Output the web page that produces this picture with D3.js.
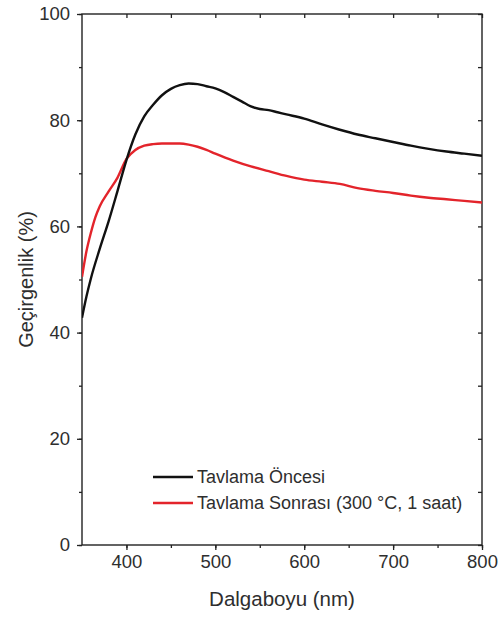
<!DOCTYPE html>
<html><head><meta charset="utf-8">
<script src="https://cdn.jsdelivr.net/npm/d3@7/dist/d3.min.js"></script>
<style>body{margin:0;background:#fff;}text{font-family:"Liberation Sans",Arial,sans-serif;}</style>
</head><body><svg id="c" width="498" height="619"></svg>
<script>
const wlBefore = [350,355,360,370,380,390,400,410,420,430,440,450,460,470,480,490,500,510,520,530,540,550,560,570,580,600,620,640,660,680,700,720,740,760,780,800];
const tBefore  = [42.8,46.8,50.2,55.8,61.0,66.7,72.5,77.3,80.7,82.9,84.7,85.9,86.6,86.9,86.8,86.4,86.0,85.3,84.4,83.5,82.6,82.1,81.9,81.5,81.1,80.3,79.2,78.2,77.3,76.6,75.9,75.2,74.6,74.1,73.7,73.3];
const wlAfter = [350,355,360,365,370,380,390,400,410,420,430,440,450,460,470,480,490,500,520,540,560,580,600,620,640,660,680,700,720,740,760,780,800];
const tAfter  = [50.5,55.3,58.8,61.7,63.8,66.6,69.2,72.7,74.4,75.2,75.5,75.6,75.6,75.6,75.4,75.0,74.4,73.7,72.4,71.3,70.4,69.5,68.8,68.4,68.0,67.2,66.7,66.3,65.8,65.4,65.1,64.8,64.5];
const xTicks = [400,500,600,700,800];
const yTicks = [0,20,40,60,80,100];
const seriesNames = ["Tavlama Öncesi","Tavlama Sonrası (300 °C, 1 saat)"];
const seriesColors = ["#111111","#e3242b"];
const xTitle = "Dalgaboyu (nm)";
const yTitle = "Geçirgenlik (%)";

const svg = d3.select("#c");
const L=82, R=482, T=14, B=545;
const x = d3.scaleLinear().domain([350,800]).range([L,R]);
const y = d3.scaleLinear().domain([0,100]).range([B,T]);
const axCol="#222", txtCol="#2e2e2e";

svg.append("rect").attr("x",L).attr("y",T).attr("width",R-L).attr("height",B-T)
  .attr("fill","none").attr("stroke",axCol).attr("stroke-width",1.4);

const minorX = d3.range(400,801,50);
const minorY = d3.range(0,101,10);

function styleAxis(g){
  g.select(".domain").remove();
  g.selectAll("line").attr("stroke",axCol).attr("stroke-width",1.3);
  g.selectAll("text").attr("fill",txtCol).style("font-size","18.5px");
}
svg.append("g").attr("transform",`translate(0,${B})`)
  .call(d3.axisBottom(x).tickValues(minorX).tickSize(3).tickFormat(""))
  .call(styleAxis);
svg.append("g").attr("transform",`translate(0,${B})`)
  .call(d3.axisBottom(x).tickValues(xTicks).tickSize(5).tickPadding(5).tickFormat(d3.format("d")))
  .call(styleAxis);
svg.append("g").attr("transform",`translate(${L},0)`)
  .call(d3.axisLeft(y).tickValues(minorY).tickSize(3).tickFormat(""))
  .call(styleAxis);
svg.append("g").attr("transform",`translate(${L},0)`)
  .call(d3.axisLeft(y).tickValues(yTicks).tickSize(5).tickPadding(7).tickFormat(d3.format("d")))
  .call(styleAxis);
svg.append("g").attr("transform",`translate(0,${T})`)
  .call(d3.axisBottom(x).tickValues(minorX).tickSize(4).tickFormat(""))
  .call(styleAxis);
svg.append("g").attr("transform",`translate(${R},0)`)
  .call(d3.axisLeft(y).tickValues(minorY).tickSize(4).tickFormat(""))
  .call(styleAxis);

const line = d3.line().x(d=>x(d[0])).y(d=>y(d[1])).curve(d3.curveMonotoneX);
const data = [d3.zip(wlBefore,tBefore), d3.zip(wlAfter,tAfter)];
svg.append("clipPath").attr("id","cp").append("rect").attr("x",L).attr("y",T).attr("width",R-L).attr("height",B-T);
[1,0].forEach(i=>{
  svg.append("path").datum(data[i]).attr("d",line).attr("fill","none")
    .attr("stroke",seriesColors[i]).attr("stroke-width",2.4).attr("clip-path","url(#cp)");
});

seriesNames.forEach((n,i)=>{
  const yy = 477 + i*26;
  svg.append("line").attr("x1",153).attr("x2",193).attr("y1",yy).attr("y2",yy)
    .attr("stroke",seriesColors[i]).attr("stroke-width",2.4);
  svg.append("text").attr("x",197).attr("y",yy).attr("dy","0.35em")
    .attr("fill",txtCol).style("font-size","18px").text(n);
});

svg.append("text").attr("x",(L+R)/2).attr("y",599).attr("dy","0.35em").attr("text-anchor","middle")
  .attr("fill",txtCol).style("font-size","20.5px").text(xTitle);
svg.append("text").attr("transform",`translate(26,${(T+B)/2}) rotate(-90)`).attr("dy","0.35em")
  .attr("text-anchor","middle").attr("fill",txtCol).style("font-size","20px").text(yTitle);
</script></body></html>
